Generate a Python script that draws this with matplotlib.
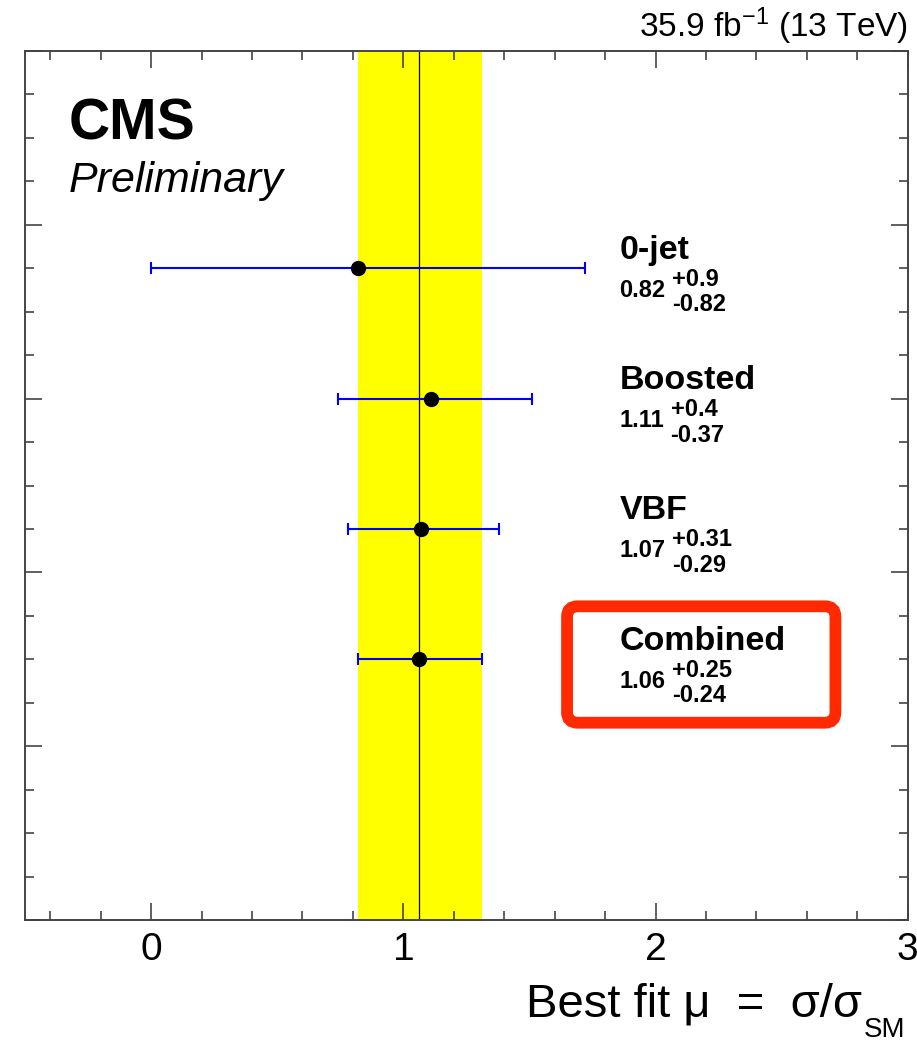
import numpy as np
import matplotlib
matplotlib.use('Agg')
import matplotlib.pyplot as plt
from matplotlib.patches import FancyBboxPatch
from matplotlib.ticker import MultipleLocator

# ==========================================
# 数据
# ==========================================
categories = ['0-jet', 'Boosted', 'VBF', 'Combined']
mu_best = [0.82, 1.11, 1.07, 1.06]
err_up = [0.9, 0.4, 0.31, 0.25]
err_down = [0.82, 0.37, 0.29, 0.24]
y_pos = [3.75, 3.0, 2.25, 1.5]
mu_comb = 1.06
comb_up = 0.25
comb_down = 0.24
lumi_text = r"35.9 fb$^{\mathregular{-1}}$ (13 TeV)"

plt.rcParams['font.family'] = ['Liberation Sans', 'DejaVu Sans']
plt.rcParams['mathtext.fontset'] = 'custom'
plt.rcParams['mathtext.rm'] = 'Liberation Sans'
plt.rcParams['mathtext.it'] = 'Liberation Sans:italic'
plt.rcParams['mathtext.bf'] = 'Liberation Sans:bold'

fig = plt.figure(figsize=(9.17, 10.44), dpi=100)
ax = fig.add_axes([0.0273, 0.1188, 0.9627, 0.8323])
ax.set_xlim(-0.5, 3.0)
ax.set_ylim(0, 5)

# 黄色带 + 中心线 (combined)
ax.axvspan(mu_comb - comb_down, mu_comb + comb_up, color='#ffff00', lw=0, zorder=1)
ax.axvline(mu_comb, color='black', lw=0.9, zorder=2)

# 误差棒
ax.errorbar(mu_best, y_pos, xerr=[err_down, err_up], fmt='o', color='black',
            ecolor='#0000ff', elinewidth=1.5, capsize=4, capthick=1.5,
            markersize=10, zorder=3)

# 标签
label_x = 1.857
for name, mu, up, dn, y in zip(categories, mu_best, err_up, err_down, y_pos):
    ax.annotate(name, xy=(label_x, y), xytext=(0, 7), textcoords='offset points',
                fontsize=24.5, fontweight='bold', ha='left', va='baseline')
    vt = ax.annotate(f"{mu:g}", xy=(label_x, y), xytext=(0, -20.5),
                     textcoords='offset points', fontsize=17,
                     fontweight='bold', ha='left', va='baseline')
    ax.annotate(f"+{up:g}", xy=(1, y), xycoords=(vt, 'data'), xytext=(4.5, -12.5),
                textcoords='offset points', fontsize=17, fontweight='bold',
                ha='left', va='baseline')
    ax.annotate(f"-{dn:g}", xy=(1, y), xycoords=(vt, 'data'), xytext=(4.5, -31),
                textcoords='offset points', fontsize=17, fontweight='bold',
                ha='left', va='baseline')

# 红框 (Combined)
box = FancyBboxPatch((0.614, 0.227), 0.304, 0.134,
                     boxstyle='round,pad=0,rounding_size=0.012',
                     transform=ax.transAxes, fc='none', ec='#ff2a00', lw=8.5,
                     clip_on=False, zorder=5)
ax.add_patch(box)

# CMS 文字
ax.text(0.049, 0.898, 'CMS', transform=ax.transAxes, fontsize=41,
        fontweight='bold', ha='left', va='baseline')
ax.text(0.049, 0.838, 'Preliminary', transform=ax.transAxes, fontsize=31,
        fontstyle='italic', ha='left', va='baseline')

fig.text(0.990, 0.9646, lumi_text, fontsize=24, ha='right', va='baseline')

# x 轴标题 (SM 下标单独画)
fig.text(0.940, 0.0259, "Best fit μ  =  σ/σ", fontsize=34,
         ha='right', va='baseline')
fig.text(0.942, 0.0065, "SM", fontsize=20, ha='left', va='baseline')

# 坐标轴
ax.xaxis.set_major_locator(MultipleLocator(1))
ax.xaxis.set_minor_locator(MultipleLocator(0.2))
ax.yaxis.set_major_locator(MultipleLocator(1))
ax.yaxis.set_minor_locator(MultipleLocator(0.25))
ax.tick_params(which='both', direction='in', top=True, right=True,
               color='#444444', width=1.2)
ax.tick_params(which='major', length=12.5, labelsize=28, pad=9)
ax.tick_params(which='minor', length=6.5)
ax.tick_params(axis='y', labelleft=False)
for sp in ax.spines.values():
    sp.set_color('#444444')
    sp.set_linewidth(1.4)

plt.savefig('out.png', dpi=100)
plt.close()
